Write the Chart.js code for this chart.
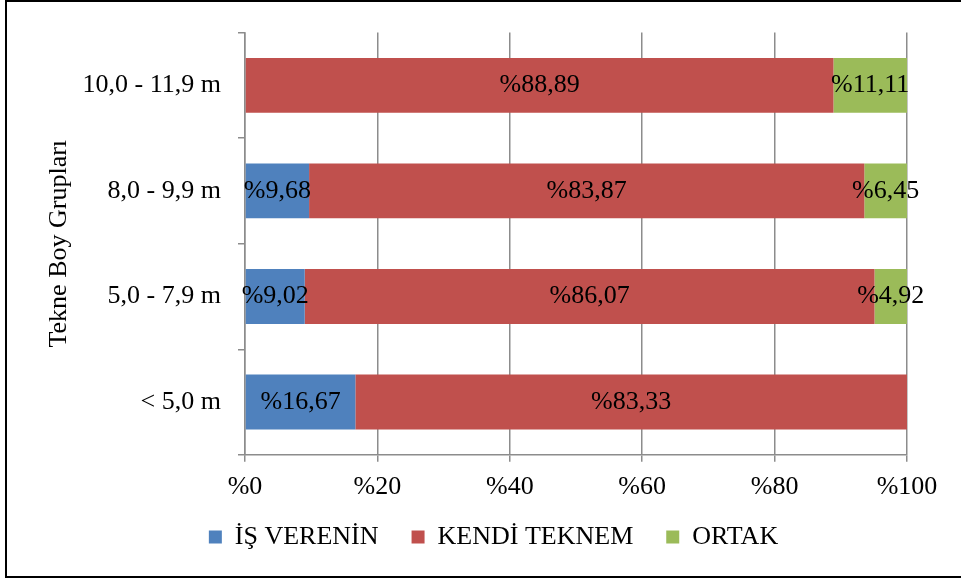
<!DOCTYPE html>
<html>
<head>
<meta charset="utf-8">
<script src="https://cdn.jsdelivr.net/npm/chart.js@4.4.1/dist/chart.umd.min.js"></script>
<style>
  html, body { margin: 0; padding: 0; background: #fff; overflow: hidden; }
  #wrap { position: relative; width: 961px; height: 578px; }
  #frame { position: absolute; left: 5px; top: 0; width: 1000px; height: 578px; border: 2px solid #000; box-sizing: border-box; pointer-events: none; }
</style>
</head>
<body>
<div id="wrap">
  <canvas id="barCanvas" width="961" height="578"></canvas>
  <div id="frame"></div>
</div>
<script>
// veriler (grafikten okunan yüzdeler)
const groups = ['10,0 - 11,9 m', '8,0 - 9,9 m', '5,0 - 7,9 m', '< 5,0 m'];
const isVerenin = [0, 9.68, 9.02, 16.67];
const kendiTeknem = [88.89, 83.87, 86.07, 83.33];
const ortak = [11.11, 6.45, 4.92, 0];
const xTicks = [0, 20, 40, 60, 80, 100];

const gray = '#8c8c8c';
Chart.defaults.font.family = "'Liberation Serif', 'Times New Roman', serif";
Chart.defaults.font.size = 26;
Chart.defaults.color = '#000';

// etiketleri çubuğun ortasına yaz
const barLabels = {
  id: 'barLabels',
  afterDatasetsDraw(chart) {
    const ctx = chart.ctx;
    ctx.save();
    ctx.font = "26px 'Liberation Serif', 'Times New Roman', serif";
    ctx.fillStyle = '#000';
    ctx.textAlign = 'center';
    ctx.textBaseline = 'middle';
    chart.data.datasets.forEach((ds, i) => {
      chart.getDatasetMeta(i).data.forEach((bar, j) => {
        const v = ds.data[j];
        if (!v) return;
        const p = bar.getCenterPoint();
        ctx.fillText('%' + v.toFixed(2).replace('.', ','), p.x, p.y);
      });
    });
    ctx.restore();
  }
};

// lejantı biraz sağa ve yukarı kaydır
const legendShift = {
  id: 'legendShift',
  afterLayout(chart) {
    const lg = chart.legend;
    if (lg) {
      lg.left += 40;
      lg.right += 40;
      lg.top -= 22;
      lg.bottom -= 22;
    }
  }
};

new Chart(document.getElementById('barCanvas'), {
  type: 'bar',
  data: {
    labels: groups,
    datasets: [
      { label: 'İŞ VERENİN', data: isVerenin, backgroundColor: '#4F81BD' },
      { label: 'KENDİ TEKNEM', data: kendiTeknem, backgroundColor: '#C0504D' },
      { label: 'ORTAK', data: ortak, backgroundColor: '#9BBB59' }
    ]
  },
  options: {
    indexAxis: 'y',
    responsive: false,
    animation: false,
    categoryPercentage: 1,
    barPercentage: 0.52,
    layout: { padding: { left: 0, right: 54, top: 30, bottom: -4 } },
    scales: {
      x: {
        stacked: true,
        min: 0,
        max: 100,
        afterBuildTicks: (s) => { s.ticks = xTicks.map(v => ({ value: v })); },
        ticks: { padding: 10, callback: (v) => '%' + v },
        grid: { color: gray, lineWidth: 1.5, tickLength: 7 },
        border: { color: gray, width: 1.5 }
      },
      y: {
        stacked: true,
        ticks: { padding: 17 },
        grid: { offset: true, drawOnChartArea: false, color: gray, lineWidth: 1.5, tickLength: 7 },
        border: { color: gray, width: 1.5 },
        title: { display: true, text: 'Tekne Boy Grupları', padding: { top: 44, bottom: 0 } },
        afterFit: (s) => { s.width = 245; }
      }
    },
    plugins: {
      legend: {
        position: 'bottom',
        labels: { boxWidth: 13, boxHeight: 13, padding: 33 }
      },
      tooltip: { enabled: false }
    }
  },
  plugins: [barLabels, legendShift]
});
</script>
</body>
</html>
